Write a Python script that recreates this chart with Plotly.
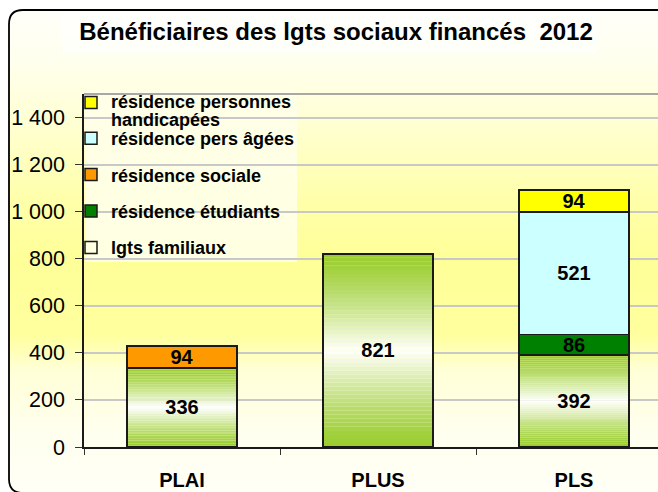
import plotly.graph_objects as go

# ---------------- data ----------------
categories = ["PLAI", "PLUS", "PLS"]
lgts_familiaux = [336, 821, 392]
residence_etudiants = [None, None, 86]
residence_sociale = [94, None, None]
residence_pers_agees = [None, None, 521]
residence_handicapees = [None, None, 94]

series_names = ["lgts familiaux", "résidence étudiants", "résidence sociale",
                "résidence pers âgées",
                "<span style='font-size:18px'>résidence personnes</span><br>"
                "<span style='font-size:18px'>handicapées</span>"]
series_colors = ["rgba(0,0,0,0)", "#008000", "#FF9900", "#CCFFFF", "#FFFF00"]
legend_ranks = [4, 3, 2, 1, 0]

y_tick_values = [0, 200, 400, 600, 800, 1000, 1200, 1400]
y_tick_labels = ["0", "200", "400", "600", "800", "1 000", "1 200", "1 400"]
title_text = "Bénéficiaires des lgts sociaux financés \u00a02012"

# ---------------- geometry helpers ----------------
W, H = 658, 492
ML, MR, MT, MB = 84, 0, 94, 45
PW, PH = W - ML - MR, H - MT - MB
BASE = H - MB
FONT = "Liberation Sans, Arial, sans-serif"
BAR_W = 0.56


def X(px):
    return (px - ML) / PW


def Y(py):
    return (BASE - py) / PH


def mix(c1, c2, t):
    return "rgb(%d,%d,%d)" % tuple(round(a + (b - a) * t) for a, b in zip(c1, c2))


def interp(stops, p):
    for (p0, c0), (p1, c1) in zip(stops, stops[1:]):
        if p0 <= p <= p1:
            return mix(c0, c1, (p - p0) / (p1 - p0))
    return mix(stops[-1][1], stops[-1][1], 0)


shapes = []

# chart background gradient (vertical)
bg_stops = [(10, (255, 255, 250)), (60, (255, 255, 238)), (120, (255, 255, 212)),
            (200, (255, 255, 170)), (260, (255, 255, 152)), (335, (255, 255, 158)),
            (370, (255, 255, 214)), (430, (255, 255, 238)), (492, (255, 255, 246))]
step = 3
for py in range(10, 492, step):
    shapes.append(dict(type="rect", xref="paper", yref="paper", layer="below",
                       x0=X(9), x1=X(W), y0=Y(py), y1=Y(min(py + step, 492)),
                       fillcolor=interp(bg_stops, py + step / 2), line_width=0))

# title box and legend box backgrounds
shapes.append(dict(type="rect", xref="paper", yref="paper", layer="below",
                   x0=X(62), x1=X(597), y0=Y(13), y1=Y(53),
                   fillcolor="rgba(255,255,255,0.6)", line_width=0))
shapes.append(dict(type="rect", xref="paper", yref="paper", layer="below",
                   x0=X(85), x1=X(297), y0=Y(90), y1=Y(262),
                   fillcolor="rgba(255,255,232,0.92)", line_width=0))

# frame: left edge, top edge and two rounded left corners
fx, fy_top, fy_bot, r = 9, 10, 493, 14
frame_line = dict(color="black", width=1.8)
shapes.append(dict(type="line", xref="paper", yref="paper", layer="below",
                   x0=X(fx), x1=X(fx), y0=Y(fy_top + r), y1=Y(fy_bot - r),
                   line=frame_line))
shapes.append(dict(type="line", xref="paper", yref="paper", layer="below",
                   x0=X(fx + r), x1=X(W + 5), y0=Y(fy_top), y1=Y(fy_top),
                   line=frame_line))
shapes.append(dict(type="path", xref="paper", yref="paper", layer="below",
                   path=f"M {X(fx)},{Y(fy_top + r)} Q {X(fx)},{Y(fy_top)} "
                        f"{X(fx + r)},{Y(fy_top)}", line=frame_line))
shapes.append(dict(type="path", xref="paper", yref="paper", layer="below",
                   path=f"M {X(fx)},{Y(fy_bot - r)} Q {X(fx)},{Y(fy_bot)} "
                        f"{X(fx + r)},{Y(fy_bot)}", line=frame_line))

# plot-area top border
shapes.append(dict(type="line", xref="paper", yref="paper", layer="below",
                   x0=0, x1=1, y0=1, y1=1, line=dict(color="#8c8c8c", width=1.5)))

# green-white-green gradient fill for the "lgts familiaux" bars
green = (154, 205, 45)
white = (255, 255, 255)
n = 48
for i, v in enumerate(lgts_familiaux):
    for k in range(n):
        f = (k + 0.5) / n
        t = (1 - abs(2 * f - 1)) ** 1.3
        shapes.append(dict(type="rect", xref="x", yref="y", layer="between",
                           x0=i - BAR_W / 2, x1=i + BAR_W / 2,
                           y0=v * k / n, y1=v * (k + 1) / n,
                           fillcolor=mix(green, white, t), line_width=0))

# ---------------- traces ----------------
series_values = [lgts_familiaux, residence_etudiants, residence_sociale,
                 residence_pers_agees, residence_handicapees]
legend_ids = ["legend", "legend", "legend", "legend", "legend2"]

fig = go.Figure()
for idx, (name, vals, col, lg, rk) in enumerate(zip(series_names, series_values,
                                                      series_colors, legend_ids,
                                                      legend_ranks)):
    fig.add_trace(go.Bar(
        x=categories, y=vals, name=name, legendgroup=f"g{idx}", legend=lg,
        legendrank=rk,
        marker=dict(color=col, line=dict(color="#1a1a1a", width=1.5)),
        width=BAR_W, texttemplate="%{y}", textposition="inside",
        insidetextanchor="middle", constraintext="none", textangle=0,
        textfont=dict(family=FONT, size=20, color="black", weight="bold"),
        hoverinfo="skip",
    ))

fig.update_layout(
    width=W, height=H, barmode="stack",
    margin=dict(l=ML, r=MR, t=MT, b=MB, pad=0, autoexpand=False),
    paper_bgcolor="white", plot_bgcolor="rgba(0,0,0,0)",
    font=dict(family=FONT, color="black"),
    title=dict(text=title_text, x=X(336), xanchor="center", y=1 - 32 / H,
               yanchor="middle", xref="paper", yref="container",
               font=dict(family=FONT, size=24, color="black", weight="bold")),
    shapes=shapes,
    showlegend=True,
    legend=dict(x=X(71), xanchor="left", y=Y(120), yanchor="top",
                bgcolor="rgba(0,0,0,0)", borderwidth=0,
                traceorder="grouped", tracegroupgap=10,
                font=dict(family=FONT, size=18, color="black", weight="bold")),
    legend2=dict(x=X(71), xanchor="left", y=Y(87), yanchor="top",
                 bgcolor="rgba(0,0,0,0)", borderwidth=0, valign="top",
                 font=dict(family=FONT, size=14, color="black", weight="bold")),
)

fig.update_xaxes(
    range=[-0.5, -0.5 + PW / 196], type="category",
    showline=True, linecolor="#1a1a1a", linewidth=1.5,
    ticks="outside", tickson="boundaries", ticklen=6, tickcolor="#333",
    showgrid=False, ticklabelstandoff=14,
    tickfont=dict(family=FONT, size=20, color="black", weight="bold"),
)
fig.update_yaxes(
    range=[0, 1500], tickvals=y_tick_values, ticktext=y_tick_labels,
    showline=True, linecolor="#1a1a1a", linewidth=1.5,
    ticks="outside", ticklen=7, tickcolor="#333", ticklabelstandoff=6,
    showgrid=True, gridcolor="#c8c8c8", gridwidth=1.5, zeroline=False,
    tickfont=dict(family=FONT, size=21.5, color="black"),
)

fig.write_html("out.html", config={"displayModeBar": False},
               post_script="document.body.style.margin='0';"
                           "document.body.style.padding='0';")
